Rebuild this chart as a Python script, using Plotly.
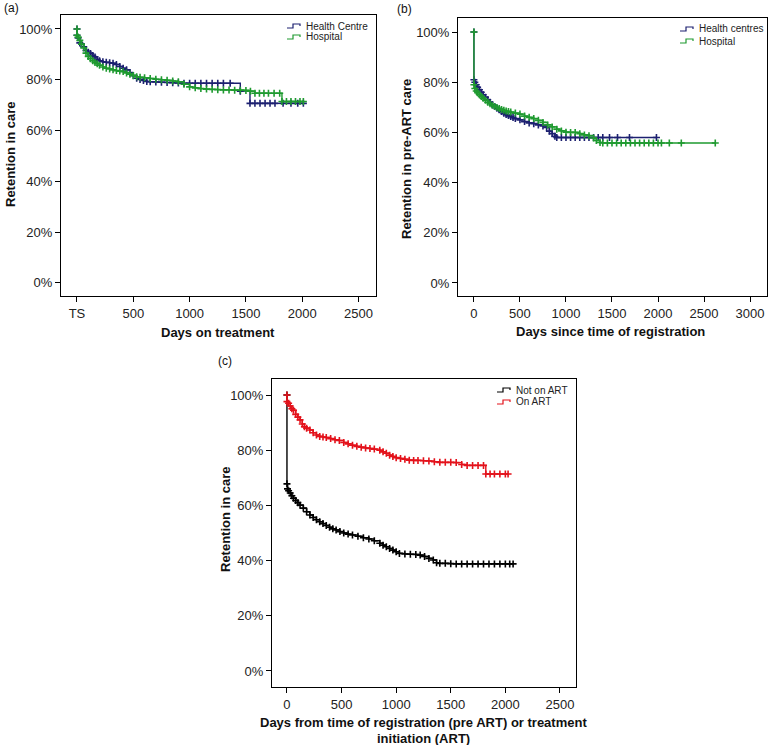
import plotly.graph_objects as go

W, H = 769, 745
FONT = "Liberation Sans, Arial, Helvetica, sans-serif"

# ---------------- Panel (a): retention on treatment ----------------
a_days_hc = [0, 0, 10, 25, 40, 60, 80, 100, 120, 140, 160, 180, 200, 230, 260, 290, 320, 350, 380, 410,
             440, 470, 500, 530, 560, 590, 620, 650, 700, 750, 800, 850, 900, 950, 1000, 1050, 1100,
             1150, 1200, 1250, 1300, 1360, 1450, 1536, 1580, 1625, 1670, 1714, 1758, 1830, 1900, 1960, 2010]
a_ret_hc = [100, 97.5, 96.5, 94.5, 94, 93, 91.5, 90.8, 90.3, 89.5, 89, 88, 87.5, 87.1, 86.9, 86.7, 86.5,
            86, 85.2, 84.5, 83.9, 82.8, 81.6, 80.6, 80.1, 79.7, 79.3, 79.2, 79.1, 79, 78.9, 78.8, 78.7,
            78.6, 78.6, 78.6, 78.6, 78.6, 78.6, 78.6, 78.6, 78.6, 75.5, 70.7, 70.7, 70.7, 70.7, 70.7,
            70.7, 70.7, 70.7, 70.7, 70.7]

a_days_hosp = [0, 0, 10, 25, 40, 60, 80, 100, 120, 140, 160, 180, 200, 230, 260, 290, 320, 350, 380, 410,
               440, 470, 500, 530, 560, 600, 650, 700, 750, 800, 850, 900, 950, 1000, 1050, 1100, 1150,
               1200, 1250, 1300, 1350, 1400, 1450, 1500, 1540, 1580, 1620, 1660, 1700, 1750, 1800, 1820,
               1860, 1900, 1940, 1980, 2010]
a_ret_hosp = [100, 97.5, 96.8, 95.5, 94, 92.5, 90.5, 89.2, 88.3, 87.5, 86.8, 86.3, 85.7, 85, 84.5, 84.2,
              83.9, 83.6, 83.4, 83.2, 82.7, 82.2, 81.7, 81.2, 81, 80.8, 80.5, 80.2, 80, 79.8, 79.5, 79.2,
              78.2, 77.2, 76.8, 76.5, 76.3, 76.2, 76.1, 76, 76, 75.9, 75.9, 75.8, 75.5, 74.7, 74.7, 74.7,
              74.7, 74.7, 74.7, 71.4, 71.4, 71.4, 71.4, 71.4, 71.4]

a_xticks = [0, 500, 1000, 1500, 2000, 2500]
a_xticktext = ["TS", "500", "1000", "1500", "2000", "2500"]

# ---------------- Panel (b): retention in pre-ART care ----------------
b_days_hc = [0, 0, 10, 25, 40, 60, 80, 100, 125, 150, 175, 200, 225, 250, 275, 300, 325, 350, 375, 400,
             425, 450, 500, 550, 600, 650, 700, 750, 790, 820, 850, 880, 900, 950, 1000, 1050, 1100,
             1150, 1200, 1250, 1300, 1350, 1400, 1473, 1560, 1690, 1983]
b_ret_hc = [100, 81, 80, 79, 78, 77, 76, 75, 74, 73, 72, 71, 70.3, 69.6, 69, 68.3, 67.6, 67.1, 66.7, 66.3,
            65.9, 65.5, 65, 64.3, 63.8, 63.5, 63, 62.6, 62, 60.5, 59.5, 58.5, 58, 58, 58, 58, 58, 58, 58,
            58, 58, 58, 58, 58, 58, 58, 58]

b_days_hosp = [0, 0, 10, 25, 40, 60, 80, 100, 125, 150, 175, 200, 225, 250, 275, 300, 325, 350, 375, 400,
               450, 500, 550, 600, 650, 700, 750, 800, 850, 900, 950, 1000, 1050, 1100, 1150, 1200, 1250,
               1300, 1330, 1370, 1400, 1450, 1500, 1550, 1600, 1650, 1700, 1750, 1800, 1850, 1900, 1950,
               2000, 2037, 2123, 2253, 2622]
b_ret_hosp = [100, 79, 77.5, 76.5, 75.8, 75, 74.3, 73.6, 72.8, 72, 71.4, 70.8, 70.3, 69.9, 69.5, 69.1,
              68.8, 68.5, 68.3, 68.1, 67.7, 67.3, 66.5, 66, 65.5, 64.8, 64, 63, 62.2, 61.3, 60.6, 60.1,
              60, 60, 59.5, 59, 58.7, 57.8, 56.8, 56, 55.8, 55.8, 55.8, 55.8, 55.8, 55.8, 55.8, 55.8,
              55.8, 55.8, 55.8, 55.8, 55.8, 55.8, 55.8, 55.8, 55.8]

b_xticks = [0, 500, 1000, 1500, 2000, 2500, 3000]

# ---------------- Panel (c): Not on ART vs On ART ----------------
c_days_art = [0, 0, 15, 30, 45, 60, 80, 100, 120, 140, 160, 180, 210, 240, 270, 300, 330, 360, 400, 440,
              480, 520, 560, 600, 640, 680, 720, 760, 800, 850, 880, 910, 940, 970, 1000, 1040, 1080,
              1120, 1160, 1200, 1250, 1300, 1350, 1400, 1450, 1500, 1550, 1600, 1650, 1700, 1750, 1800,
              1821, 1860, 1900, 1950, 2000, 2025]
c_ret_art = [100, 97.6, 97, 96, 95, 94.5, 93, 92, 91, 89.5, 88.5, 88, 87.3, 86.3, 85.5, 85, 84.8, 84.6,
             84.2, 83.8, 83.5, 82.8, 82.3, 81.8, 81.4, 81.1, 80.8, 80.6, 80.4, 80, 79.4, 78.9, 78.2, 77.7,
             77.3, 77, 76.7, 76.4, 76.3, 76.3, 76.2, 76.1, 75.8, 75.6, 75.6, 75.6, 75.5, 74.8, 74.5,
             74.5, 74.5, 74.5, 71.4, 71.4, 71.4, 71.4, 71.4, 71.4]

c_days_pre = [0, 0, 5, 15, 30, 45, 60, 80, 100, 120, 150, 180, 210, 240, 270, 300, 330, 360, 390, 420,
              450, 485, 520, 560, 600, 650, 700, 750, 800, 850, 880, 910, 940, 970, 1000, 1030, 1080,
              1130, 1180, 1220, 1260, 1300, 1340, 1370, 1400, 1450, 1500, 1550, 1600, 1650, 1700, 1750,
              1800, 1850, 1900, 1950, 2000, 2040, 2071]
c_ret_pre = [100, 67.8, 66, 65.3, 64.5, 63.5, 62.6, 61.8, 61, 60.1, 59, 57.7, 56.5, 55.6, 54.8, 54.1,
             53.4, 52.7, 52.1, 51.5, 51.1, 50.5, 50, 49.6, 49.3, 48.8, 48.3, 47.8, 47.2, 46.3, 45.6, 45,
             44.4, 43.8, 43.2, 42.6, 42.4, 42.3, 42.2, 42, 41.5, 40.8, 40.2, 39.2, 39, 39, 38.9, 38.8,
             38.8, 38.8, 38.8, 38.8, 38.8, 38.8, 38.8, 38.8, 38.8, 38.8, 38.8]

c_xticks = [0, 500, 1000, 1500, 2000, 2500]

y_ticks = [0, 20, 40, 60, 80, 100]
y_ticktext = ["0%", "20%", "40%", "60%", "80%", "100%"]

NAVY = "#1c2070"
GREEN = "#1f9a30"
RED = "#e3121b"
BLACK = "#000000"


def px(x):
    return x / W


def py(y):
    return 1 - y / H


def km(x, y, color, xa, ya):
    return go.Scatter(
        x=x, y=y, mode="lines+markers", xaxis=xa, yaxis=ya,
        line=dict(color=color, width=1.4, shape="hv"),
        marker=dict(symbol="cross-thin", size=5, color=color, line=dict(color=color, width=1.6)),
        showlegend=False, hoverinfo="skip",
    )


fig = go.Figure()
fig.add_trace(km(a_days_hc, a_ret_hc, NAVY, "x", "y"))
fig.add_trace(km(a_days_hosp, a_ret_hosp, GREEN, "x", "y"))
fig.add_trace(km(b_days_hc, b_ret_hc, NAVY, "x2", "y2"))
fig.add_trace(km(b_days_hosp, b_ret_hosp, GREEN, "x2", "y2"))
fig.add_trace(km(c_days_pre, c_ret_pre, BLACK, "x3", "y3"))
fig.add_trace(km(c_days_art, c_ret_art, RED, "x3", "y3"))

common = dict(showline=True, mirror=True, linecolor="black", linewidth=1, ticks="outside", ticklen=5,
              tickcolor="black", tickwidth=1, showgrid=False, zeroline=False,
              tickfont=dict(family=FONT, size=13, color="#222"))

fig.update_layout(
    width=W, height=H, autosize=False,
    margin=dict(l=0, r=0, t=0, b=0),
    paper_bgcolor="white", plot_bgcolor="white",
    xaxis=dict(domain=[px(61), px(376)], range=[-142, 2655], anchor="y",
               tickvals=a_xticks, ticktext=a_xticktext, **common),
    yaxis=dict(domain=[py(296), py(15)], range=[-5.2, 105.5], anchor="x",
               tickvals=y_ticks, ticktext=y_ticktext, **common),
    xaxis2=dict(domain=[px(458), px(767)], range=[-173, 3184], anchor="y2",
                tickvals=b_xticks, **common),
    yaxis2=dict(domain=[py(296), py(18)], range=[-5.2, 105.6], anchor="x2",
                tickvals=y_ticks, ticktext=y_ticktext, **common),
    xaxis3=dict(domain=[px(272), px(576)], range=[-137, 2647], anchor="y3",
                tickvals=c_xticks, **common),
    yaxis3=dict(domain=[py(687), py(379)], range=[-5.8, 105.8], anchor="x3",
                tickvals=y_ticks, ticktext=y_ticktext, **common),
)

ann = []


def text(x, y, s, size=13, bold=False, angle=0, xanchor="center", color="#111"):
    ann.append(dict(x=px(x), y=py(y), xref="paper", yref="paper", text=f"<b>{s}</b>" if bold else s,
                    showarrow=False, textangle=angle, xanchor=xanchor, yanchor="middle",
                    font=dict(family=FONT, size=size, color=color)))


text(2, 8, "(a)", size=12, xanchor="left")
text(395, 9, "(b)", size=12, xanchor="left")
text(216, 361, "(c)", size=12, xanchor="left")

text(218, 333, "Days on treatment", bold=True)
text(10, 155, "Retention in care", bold=True, angle=-90)
text(610, 331, "Days since time of registration", bold=True)
text(407, 159, "Retention in pre-ART care", bold=True, angle=-90)
text(424, 722, "Days from time of registration (pre ART) or treatment", bold=True)
text(424, 738, "initiation (ART)", bold=True)
text(225, 520, "Retention in care", bold=True, angle=-90)

shapes = []


def legend_item(x, y, color, label):
    x0, x1, x2 = x, x + 6, x + 13
    yl, yh = y + 2, y - 2
    path = (f"M {px(x0)} {py(yl)} L {px(x1)} {py(yl)} L {px(x1)} {py(yh)} "
            f"L {px(x2)} {py(yh)} L {px(x2)} {py(y)}")
    shapes.append(dict(type="path", path=path, xref="paper", yref="paper",
                       line=dict(color=color, width=1.2)))
    text(x + 17, y, label, size=10, xanchor="left", color="#222")


legend_item(287, 26, NAVY, "Health Centre")
legend_item(287, 37, GREEN, "Hospital")
legend_item(680, 29, NAVY, "Health centres")
legend_item(680, 41, GREEN, "Hospital")
legend_item(497, 390, BLACK, "Not on ART")
legend_item(497, 402, RED, "On ART")

fig.update_layout(annotations=ann, shapes=shapes)
fig.write_html(
    "out.html",
    config={"displayModeBar": False, "staticPlot": True},
    post_script="document.body.style.margin='0';document.body.style.padding='0';"
                "document.body.style.overflow='hidden';",
)
